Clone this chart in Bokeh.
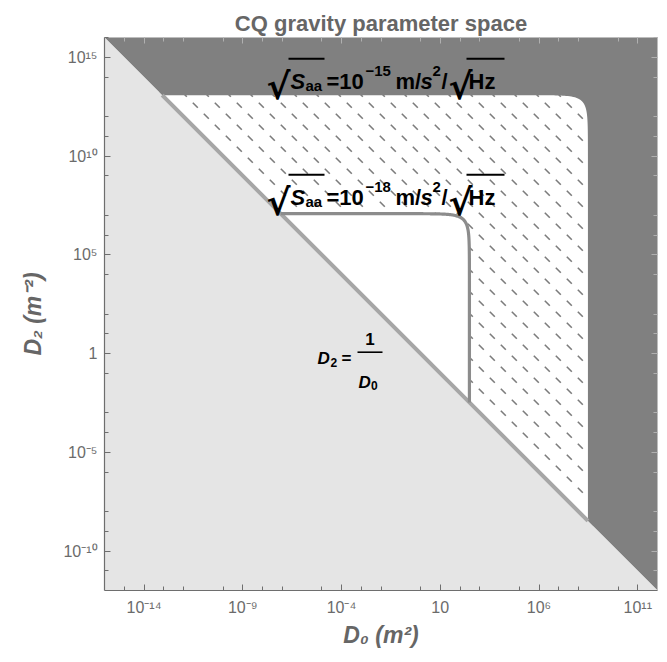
import numpy as np
from bokeh.plotting import figure
from bokeh.models import Range1d, FixedTicker, LogAxis, Label, CustomJSTickFormatter
from bokeh.embed import file_html
from bokeh.resources import INLINE

# ---------------- data ----------------
noise_exponents = ["−18", "−15"]          # sqrt(S_aa) = 10^e m/s^2/sqrt(Hz)
D0_limit = [3.0e2, 3.0e8]                 # m^2   (vertical edge of each contour)
D2_limit = [1.2e7, 1.2e13]                # m^-2  (horizontal edge of each contour)

x_bounds = [1e-16, 1e12]
y_bounds = [1e-12, 1e16]

x_tick_values = [1e-14, 1e-9, 1e-4, 1e1, 1e6, 1e11]
x_tick_labels = ["10⁻¹⁴", "10⁻⁹", "10⁻⁴", "10", "10⁶", "10¹¹"]
y_tick_values = [1e-10, 1e-5, 1e0, 1e5, 1e10, 1e15]
y_tick_labels = ["10⁻¹⁰", "10⁻⁵", "1", "10⁵", "10¹⁰", "10¹⁵"]
x_minor_exponents = [e for e in range(-16, 13) if e % 5 != 4]
y_minor_exponents = [e for e in range(-12, 17) if e % 5 != 3]

title_text = "CQ gravity parameter space"
x_label_text = "D₀ (m²)"
y_label_text = "D₂ (m⁻²)"

# ---------------- layout helpers ----------------
FRAME_L, FRAME_T, FRAME = 104, 37, 553
PPD = FRAME / 28.0
LX0, LY1 = np.log10(x_bounds[0]), np.log10(y_bounds[1])


def X(px):
    return 10 ** (LX0 + (px - FRAME_L) / PPD)


def Y(py):
    return 10 ** (LY1 - (py - FRAME_T) / PPD)


def contour(a, b, n=240):
    """Boundary D0/b + D2/a = 1 between its two crossings of D2 = 1/D0."""
    ab = a * b
    s_small = (2.0 / ab) / (1.0 + np.sqrt(1.0 - 4.0 / ab))
    xl = b * s_small
    x1 = np.logspace(np.log10(xl), np.log10(b / 2), n)
    y1 = a * (1 - x1 / b)
    s = np.logspace(np.log10(0.5), np.log10(s_small), n)[1:]
    x2 = b * (1 - s)
    y2 = a * s
    return np.concatenate([x1, x2]), np.concatenate([y1, y2])


p = figure(x_axis_type="log", y_axis_type="log",
           x_range=Range1d(*x_bounds), y_range=Range1d(*y_bounds),
           frame_width=FRAME, frame_height=FRAME,
           min_border_left=FRAME_L, min_border_top=FRAME_T,
           min_border_right=6, min_border_bottom=70,
           toolbar_location=None, output_backend="svg",
           background_fill_color="white", border_fill_color="white",
           outline_line_color=None)
p.grid.visible = False

p.title.text = title_text
p.title.text_font = "Liberation Sans"
p.title.text_font_size = "22px"
p.title.text_font_style = "bold"
p.title.text_color = "#666666"
p.title.align = "center"
p.title.vertical_align = "top"
p.title.standoff = 0

fmt_code = """
const lt = Math.log10(tick);
for (let i = 0; i < vals.length; i++) {
  if (Math.abs(lt - Math.log10(vals[i])) < 1e-6) { return labs[i]; }
}
return "";
"""

AX = "#6e6e6e"
for ax, vals, labs, minors, standoff, lab, lab_standoff in [
        (p.xaxis[0], x_tick_values, x_tick_labels, x_minor_exponents, 8, x_label_text, 3),
        (p.yaxis[0], y_tick_values, y_tick_labels, y_minor_exponents, 7, y_label_text, 14)]:
    ax.ticker = FixedTicker(ticks=vals, minor_ticks=[10.0 ** e for e in minors])
    ax.formatter = CustomJSTickFormatter(args=dict(vals=vals, labs=labs), code=fmt_code)
    ax.axis_line_color = AX
    ax.axis_line_width = 1.2
    ax.major_tick_in, ax.major_tick_out = 6, 0
    ax.minor_tick_in, ax.minor_tick_out = 4, 0
    ax.major_tick_line_color = AX
    ax.minor_tick_line_color = AX
    ax.major_label_text_font = "Liberation Sans"
    ax.major_label_text_font_size = "16px"
    ax.major_label_text_color = "#6b6b6b"
    ax.major_label_standoff = standoff
    ax.axis_label = lab
    ax.axis_label_text_font = "Liberation Sans"
    ax.axis_label_text_font_size = "23px"
    ax.axis_label_text_font_style = "bold italic"
    ax.axis_label_text_color = "#666666"
    ax.axis_label_standoff = lab_standoff

for place, vals, minors in [("above", x_tick_values, x_minor_exponents),
                            ("right", y_tick_values, y_minor_exponents)]:
    ax = LogAxis(ticker=FixedTicker(ticks=vals, minor_ticks=[10.0 ** e for e in minors]),
                 formatter=CustomJSTickFormatter(code="return '';"),
                 major_label_text_font_size="0px", major_label_standoff=0,
                 axis_line_color="#bdbdbd", major_tick_line_color="#b0b0b0",
                 minor_tick_line_color="#b0b0b0",
                 major_tick_in=6, major_tick_out=0, minor_tick_in=4, minor_tick_out=0)
    p.add_layout(ax, place)

# ---------------- regions ----------------
c18x, c18y = contour(D2_limit[0], D0_limit[0])
c15x, c15y = contour(D2_limit[1], D0_limit[1])

# hatch (dashed diagonal lines) inside the 1e-15 region
lx_lo, lx_hi = np.log10(c15x[0]), np.log10(c15x[-1])
ly_lo, ly_hi = np.log10(c15y[-1]), np.log10(c15y[0])
hx0, hy0 = np.log10(X(315.8)), np.log10(Y(115.8))
d = 2.5 / PPD
hx, hy = [], []
for j in range(-10, 70):
    for i in range(-60, 60):
        cx = hx0 + (22 * i + 11 * j) / PPD
        cy = hy0 - (11 * j) / PPD
        if lx_lo - 0.6 <= cx <= lx_hi + 0.6 and ly_lo - 0.6 <= cy <= ly_hi + 0.6 and cx + cy > -0.6:
            hx.append(cx)
            hy.append(cy)
hx, hy = np.array(hx), np.array(hy)
p.segment(x0=10 ** (hx - d), y0=10 ** (hy + d), x1=10 ** (hx + d), y1=10 ** (hy - d),
          line_color="#7c7c7c", line_width=1.6)

# dark region outside the 1e-15 contour
dark_x = [x_bounds[0], x_bounds[1], x_bounds[1]] + list(c15x[::-1])
dark_y = [y_bounds[1], y_bounds[1], y_bounds[0]] + list(c15y[::-1])
p.patch(dark_x, dark_y, fill_color="#808080", line_color=None)

# white region inside the 1e-18 contour
p.patch(list(c18x), list(c18y), fill_color="white", line_color=None)

# forbidden region below D2 = 1/D0
p.patch([x_bounds[0], x_bounds[1], x_bounds[0]], [y_bounds[1], y_bounds[0], y_bounds[0]],
        fill_color="#e5e5e5", line_color=None)

# boundary lines
p.line([c15x[0], c15x[-1]], [c15y[0], c15y[-1]], line_color="#a6a6a6", line_width=4)
p.line(c18x, c18y, line_color="#8c8c8c", line_width=3.2)


# ---------------- texts ----------------
def txt(px, py, s, size, style="bold", font="Liberation Sans", color="black",
        align="left", angle=0.0):
    p.add_layout(Label(x=X(px), y=Y(py), text=s, text_font=font,
                       text_font_size=f"{size}px", text_font_style=style,
                       text_color=color, text_align=align,
                       text_baseline="alphabetic", angle=angle))


def bar(px0, px1, py, w=2.0):
    p.segment(x0=[X(px0)], y0=[Y(py)], x1=[X(px1)], y1=[Y(py)],
              line_color="black", line_width=w)


def sqrt_label(base, expo):
    txt(266, base + 5, "√", 36, font="DejaVu Sans")
    bar(288, 324, base - 22.5)
    txt(290, base, "S", 22, "bold italic")
    txt(305, base + 4, "aa", 15)
    txt(326, base, "=10", 22)
    txt(365, base - 10, expo, 15)
    txt(395, base, "m/", 22)
    txt(420, base, "s", 22, "bold italic")
    txt(432, base - 10, "2", 15)
    txt(441, base, "/", 22)
    txt(448, base + 5, "√", 36, font="DejaVu Sans")
    bar(466, 504, base - 22.5)
    txt(468, base, "Hz", 22)


sqrt_label(196.7, noise_exponents[0])
sqrt_label(80.7, noise_exponents[1])

# D2 = 1/D0
txt(317, 358.3, "D", 17, "bold italic")
txt(330, 361.7, "2", 12)
txt(341, 358.3, "=", 17)
bar(357, 382, 351.7, 1.6)
txt(369.5, 338.3, "1", 17, align="center")
txt(358, 381.7, "D", 17, "bold italic")
txt(370.5, 385, "0", 12)

open("out.html", "w").write(file_html(p, INLINE))
